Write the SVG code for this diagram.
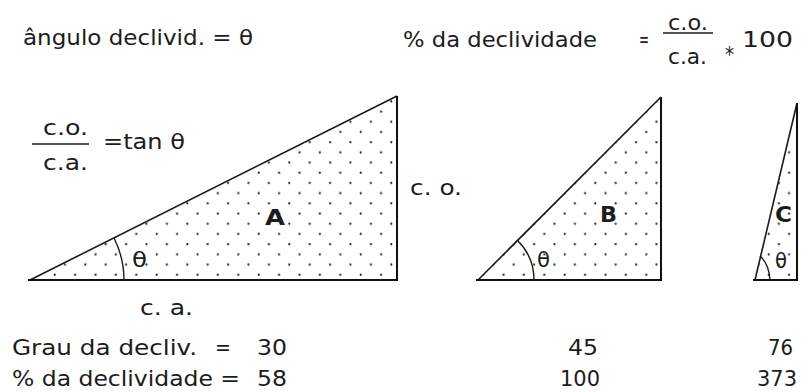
<svg xmlns="http://www.w3.org/2000/svg" width="801" height="392" viewBox="0 0 801 392">
<style>
text{font-family:"DejaVu Sans","Liberation Sans",sans-serif;font-size:22px;fill:#1c1c1c}
.b{font-weight:bold;font-size:22px}
.lo{font-size:21px}
.tri{fill:url(#dots);stroke:none}
.edge{stroke:#111;stroke-width:2;fill:none}
.hyp{stroke:#1a1a1a;stroke-width:1.6;fill:none}
.arc{stroke:#1a1a1a;stroke-width:1.4;fill:none}
.rule{stroke:#1a1a1a;stroke-width:1.6}
</style>
<defs>
<pattern id="dots" patternUnits="userSpaceOnUse" x="284.2" y="177.9" width="20.4" height="20.4">
<circle cx="5.1" cy="5.1" r="1.1" fill="#222"/>
<circle cx="15.3" cy="15.3" r="1.1" fill="#222"/>
</pattern>
</defs>
<rect width="801" height="392" fill="#fff"/>
<g id="header">
<text x="23" y="45" textLength="230" lengthAdjust="spacingAndGlyphs">ângulo declivid. = θ</text>
<text x="403" y="47" textLength="194" lengthAdjust="spacingAndGlyphs">% da declividade</text>
<text x="639" y="47" textLength="10" lengthAdjust="spacingAndGlyphs">=</text>
<text x="668" y="30" textLength="40" lengthAdjust="spacingAndGlyphs">c.o.</text>
<line class="rule" x1="663" y1="33" x2="713" y2="33"/>
<text x="668" y="64" textLength="39" lengthAdjust="spacingAndGlyphs">c.a.</text>
<text x="725" y="62" textLength="9" lengthAdjust="spacingAndGlyphs">*</text>
<text x="742" y="47" textLength="51" lengthAdjust="spacingAndGlyphs">100</text>
</g>
<g id="tan-formula">
<text x="43" y="135" textLength="45" lengthAdjust="spacingAndGlyphs">c.o.</text>
<line class="rule" x1="32" y1="144" x2="89" y2="144"/>
<text x="43" y="170" textLength="45" lengthAdjust="spacingAndGlyphs">c.a.</text>
<text x="103" y="149" textLength="82" lengthAdjust="spacingAndGlyphs">=tan θ</text>
</g>
<g id="triangle-a">
<polygon class="tri" points="30,280 397,96 397,280"/>
<path class="hyp" d="M30,280 L397,96"/>
<path class="edge" d="M397,96 L397,281 M28,280 L398,280"/>
<path class="arc" d="M114,238 A94,94 0 0 1 124,280"/>
<text x="132" y="267" textLength="15" lengthAdjust="spacingAndGlyphs">θ</text>
<text class="b" x="265" y="225" textLength="20" lengthAdjust="spacingAndGlyphs">A</text>
<text x="410" y="195" textLength="52" lengthAdjust="spacingAndGlyphs">c. o.</text>
<text x="140" y="315" textLength="53" lengthAdjust="spacingAndGlyphs">c. a.</text>
</g>
<g id="triangle-b">
<polygon class="tri" points="478,280 661,97 661,280"/>
<path class="hyp" d="M478,280 L661,97"/>
<path class="edge" d="M661,97 L661,281 M476,280 L662,280"/>
<path class="arc" d="M517.6,240.4 A56,56 0 0 1 534,280"/>
<text x="537" y="267" textLength="13" lengthAdjust="spacingAndGlyphs">θ</text>
<text class="b" x="600" y="222" textLength="17" lengthAdjust="spacingAndGlyphs">B</text>
</g>
<g id="triangle-c">
<polygon class="tri" points="755,280 797,103 797,280"/>
<path class="hyp" d="M755,280 L797,103"/>
<path class="edge" d="M797,103 L797,281 M753,280 L798,280"/>
<path class="arc" d="M760,256 Q769,264 770,280"/>
<text x="775" y="268" textLength="12" lengthAdjust="spacingAndGlyphs">θ</text>
<text class="b" x="775" y="222" textLength="17" lengthAdjust="spacingAndGlyphs">C</text>
</g>
<g id="connectors"></g>
<g id="results">
<text x="12" y="355" textLength="185" lengthAdjust="spacingAndGlyphs">Grau da decliv.</text>
<text x="215" y="355" textLength="16" lengthAdjust="spacingAndGlyphs">=</text>
<text x="257" y="355" textLength="30" lengthAdjust="spacingAndGlyphs">30</text>
<text class="lo" x="12" y="386" textLength="228" lengthAdjust="spacingAndGlyphs">% da declividade =</text>
<text class="lo" x="257" y="386" textLength="30" lengthAdjust="spacingAndGlyphs">58</text>
<text x="568" y="355" textLength="30" lengthAdjust="spacingAndGlyphs">45</text>
<text x="768" y="355" textLength="25" lengthAdjust="spacingAndGlyphs">76</text>
<text class="lo" x="560" y="386" textLength="40" lengthAdjust="spacingAndGlyphs">100</text>
<text class="lo" x="757" y="386" textLength="40" lengthAdjust="spacingAndGlyphs">373</text>
</g>
</svg>
